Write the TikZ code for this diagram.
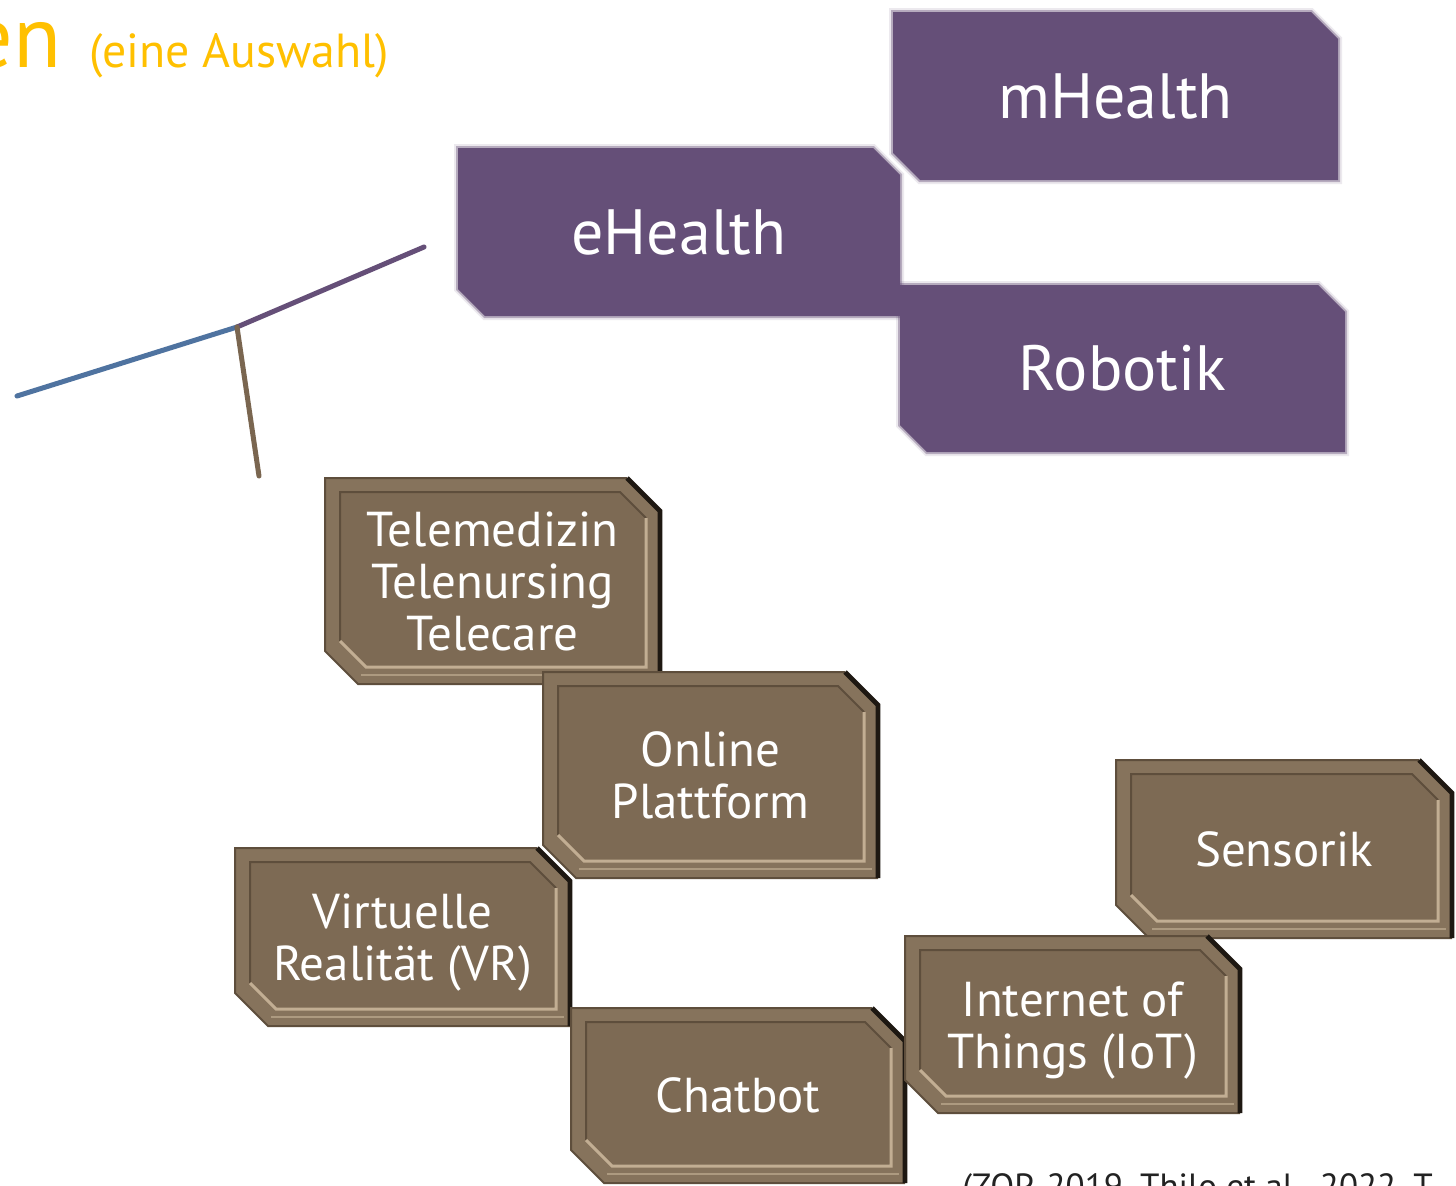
\documentclass[tikz,border=0pt]{standalone}
\usepackage{fontspec}
\setmainfont{PT Sans}
\definecolor{boxbrown}{HTML}{7D6A54}
\definecolor{bandbrown}{HTML}{86735C}
\definecolor{darkedge}{HTML}{1E1812}
\definecolor{lightedge}{HTML}{C2AE93}
\definecolor{shadeedge}{HTML}{5E4E3C}
\definecolor{purp}{HTML}{654F78}
\definecolor{ybl}{HTML}{FFC000}
\definecolor{lblue}{HTML}{4F73A0}
\definecolor{lbrown}{HTML}{7A6650}
\definecolor{citegray}{HTML}{222222}
\tikzset{
  btext/.style={text=white, align=center, inner sep=0pt, font=\fontsize{24.5}{26}\selectfont},
  ptext/.style={text=white, align=center, inner sep=0pt, font=\fontsize{32}{34}\selectfont},
  conn/.style={line width=2.5pt, line cap=round},
}
\newcommand{\brownbox}[7][]{%
  \pgfmathsetmacro{\xa}{#3}\pgfmathsetmacro{\ya}{#4}%
  \pgfmathsetmacro{\xb}{#5}\pgfmathsetmacro{\yb}{#6}%
  \fill[bandbrown] (\xa,\ya) -- ({\xb-33},\ya) -- (\xb,{\ya+33}) -- (\xb,\yb) -- ({\xa+33},\yb) -- (\xa,{\yb-33}) -- cycle;
  \fill[boxbrown] ({\xa+15},{\ya+14}) -- ({\xb-40},{\ya+14}) -- ({\xb-14},{\ya+40}) -- ({\xb-14},{\yb-17}) -- ({\xa+41},{\yb-17}) -- ({\xa+15},{\yb-43}) -- cycle;
  \draw[shadeedge, line width=1pt] ({\xa+15},{\yb-43}) -- ({\xa+15},{\ya+14}) -- ({\xb-40},{\ya+14}) -- ({\xb-14},{\ya+40});
  \draw[lightedge, line width=1.5pt] ({\xb-14},{\ya+40}) -- ({\xb-14},{\yb-17}) -- ({\xa+41},{\yb-17}) -- ({\xa+15},{\yb-43});
  \draw[lightedge!70!boxbrown, line width=1pt] ({\xa+36},{\yb-9}) -- ({\xb-6},{\yb-9});
  \draw[shadeedge, line width=1pt] (\xb,\yb) -- ({\xa+33},\yb) -- (\xa,{\yb-33}) -- (\xa,\ya) -- ({\xb-33},\ya);
  \draw[darkedge, line width=2.4pt] ({\xb-33},\ya) -- (\xb,{\ya+33}) -- (\xb,\yb);
  \node[btext, #1] (#2) at ({(\xa+\xb)/2},{(\ya+\yb)/2}) {#7};
}
\newcommand{\purplebox}[6]{%
  \pgfmathsetmacro{\xa}{#2}\pgfmathsetmacro{\ya}{#3}%
  \pgfmathsetmacro{\xb}{#4}\pgfmathsetmacro{\yb}{#5}%
  \path[draw=purp, draw opacity=0.12, line width=4pt] (\xa,\ya) -- ({\xb-27},\ya) -- (\xb,{\ya+27}) -- (\xb,\yb) -- ({\xa+27},\yb) -- (\xa,{\yb-27}) -- cycle;
  \path[draw=purp, draw opacity=0.4, line width=2pt] (\xa,\ya) -- ({\xb-27},\ya) -- (\xb,{\ya+27}) -- (\xb,\yb) -- ({\xa+27},\yb) -- (\xa,{\yb-27}) -- cycle;
  \fill[purp] (\xa,\ya) -- ({\xb-27},\ya) -- (\xb,{\ya+27}) -- (\xb,\yb) -- ({\xa+27},\yb) -- (\xa,{\yb-27}) -- cycle;
  \node[ptext] (#1) at ({(\xa+\xb)/2},{(\ya+\yb)/2}) {#6};
}
\begin{document}
\begin{tikzpicture}[x=0.5pt, y=-0.5pt]
\useasboundingbox (0,0) rectangle (1456,1185);
\fill[white] (0,0) rectangle (1456,1185);

% title
\node[anchor=base east, inner sep=0pt, text=ybl, font=\fontsize{44}{48}\selectfont] (ttl) at (62,67) {en};
\node[anchor=base west, inner sep=0pt, text=ybl, font=\fontsize{23.9}{26}\selectfont] (sub) at (89,67) {(eine Auswahl)};

% connectors
\coordinate (j) at (237,327);
\coordinate (lb) at (17,396);
\coordinate (lp) at (424,247);
\coordinate (lr) at (259,476);
\draw[conn, lblue] (j) -- (lb);
\draw[conn, purp] (j) -- (lp);
\draw[conn, lbrown] (j) -- (lr);

% purple boxes
\purplebox{mh}{893}{12}{1338}{180}{mHealth}
\purplebox{rb}{900}{285}{1345}{452}{Robotik}
\purplebox{eh}{458}{148}{900}{316}{eHealth}

% brown boxes
\brownbox{tm}{325}{478}{660}{684}{Telemedizin\\Telenursing\\Telecare}
\brownbox{op}{543}{672}{878}{878}{Online\\Plattform}
\brownbox[yshift=-3pt]{vr}{235}{848}{570}{1026}{Virtuelle\\Realität (VR)}
\brownbox{cb}{571}{1008}{905}{1183}{Chatbot}
\brownbox{ss}{1116}{760}{1452}{938}{Sensorik}
\brownbox[yshift=-3pt]{iot}{905}{936}{1240}{1113}{Internet of\\Things (IoT)}

% citation (cut off at page edge)
\node[anchor=base west, inner sep=0pt, text=citegray, font=\fontsize{17.5}{20}\selectfont] (cite) at (962,1198) {(ZQP, 2019, Thilo et al., 2022, T};
\end{tikzpicture}
\end{document}
